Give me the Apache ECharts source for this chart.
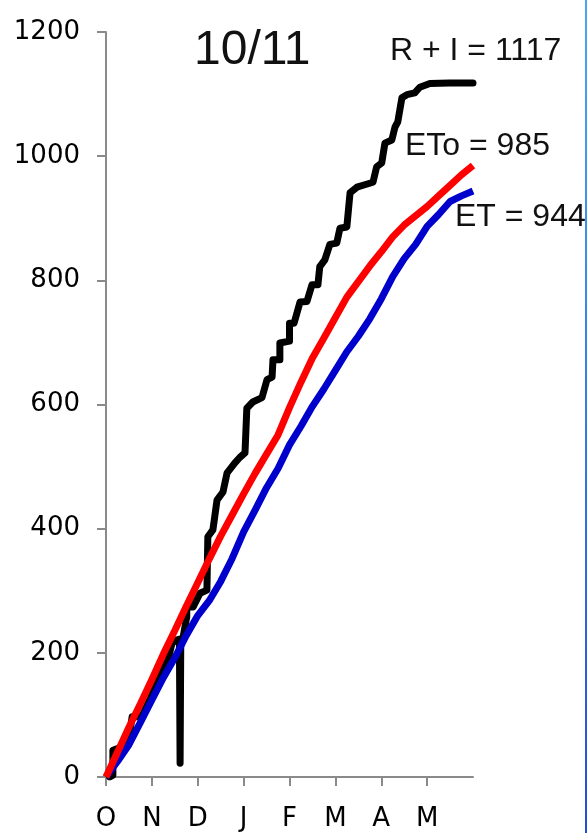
<!DOCTYPE html>
<html>
<head>
<meta charset="utf-8">
<title>10/11</title>
<script src="https://cdn.jsdelivr.net/npm/echarts@6/dist/echarts.min.js"></script>
<style>
    html, body {margin: 0; padding: 0; background: #fff;}
    #chart {width: 587px; height: 833px;}
</style>
</head>
<body>
<div id="chart"></div>
<script>
// x = months since 1 Oct, y = cumulative mm
var monthLabels = ["O", "N", "D", "J", "F", "M", "A", "M"];
var yTicks = [0, 200, 400, 600, 800, 1000, 1200];

// R + I (rain + irrigation), stepped
var rainIrr = [
    [0.08, 0], [0.15, 3], [0.15, 43], [0.48, 52], [0.57, 97], [0.78, 97], [1.0, 132],
    [1.13, 161], [1.35, 188], [1.44, 216], [1.55, 221], [1.6, 222], [1.615, 22], [1.63, 222],
    [1.68, 225], [1.76, 258], [1.76, 274], [1.9, 274], [2.05, 296], [2.2, 301], [2.22, 387],
    [2.33, 398], [2.42, 446], [2.55, 459], [2.64, 490], [2.81, 506], [2.92, 515], [3.03, 522],
    [3.07, 594], [3.2, 604], [3.4, 611], [3.51, 640], [3.62, 644], [3.64, 672], [3.79, 672],
    [3.79, 699], [4.0, 702], [4.0, 731], [4.1, 731], [4.23, 765], [4.38, 766], [4.49, 793],
    [4.62, 793], [4.66, 822], [4.77, 833], [4.88, 858], [5.03, 860], [5.1, 884], [5.25, 886],
    [5.32, 941], [5.47, 950], [5.64, 954], [5.82, 958], [5.9, 983], [6.01, 989], [6.08, 1021],
    [6.23, 1026], [6.3, 1047], [6.36, 1055], [6.45, 1094], [6.56, 1099], [6.73, 1102],
    [6.84, 1111], [7.06, 1117], [7.49, 1118], [8.0, 1118]
];
// ETo (reference ET)
var etoX = [0, 0.25, 0.5, 0.75, 1, 1.25, 1.5, 1.75, 2, 2.25, 2.5, 2.75, 3, 3.25, 3.5, 3.75, 4,
    4.25, 4.5, 4.75, 5, 5.25, 5.5, 5.75, 6, 6.25, 6.5, 6.75, 7, 7.25, 7.5, 7.75, 8];
var etoVals = [0, 40, 80, 118, 157, 198, 236, 275, 313, 351, 388, 422, 456, 489, 520, 551, 595,
    636, 675, 707, 740, 773, 798, 823, 846, 870, 889, 904, 919, 936, 953, 970, 985];
// ET (crop)
var etVals = [0, 25, 52, 88, 124, 160, 192, 228, 260, 284, 315, 352, 395, 430, 466, 497, 535,
    565, 597, 625, 655, 685, 710, 738, 770, 806, 835, 858, 887, 906, 927, 936, 944];

function pairs(xs, ys) {
    var out = [];
    for (var i = 0; i < xs.length; i++) {
        out.push([xs[i], ys[i]]);
    }
    return out;
}

var chart = echarts.init(document.getElementById('chart'));
var axisGrey = '#8a8a8a';
var labelFont = {color: '#000', fontSize: 26, fontFamily: 'DejaVu Sans'};

var option = {
    backgroundColor: '#fff',
    animation: false,
    grid: {left: 106, right: 114, top: 32, bottom: 56},
    xAxis: {
        type: 'value',
        min: 0,
        max: 8,
        interval: 1,
        splitLine: {show: false},
        axisLine: {lineStyle: {color: axisGrey, width: 2}},
        axisTick: {show: true, length: 9, customValues: [0, 1, 2, 3, 4, 5, 6, 7], lineStyle: {color: axisGrey, width: 2}},
        axisLabel: Object.assign({
            margin: 29,
            customValues: [0, 1, 2, 3, 4, 5, 6, 7],
            formatter: function (v) {
                return monthLabels[Math.round(v)] || '';
            }
        }, labelFont)
    },
    yAxis: {
        type: 'value',
        min: yTicks[0],
        max: yTicks[yTicks.length - 1],
        interval: 200,
        splitLine: {show: false},
        axisLine: {show: true, lineStyle: {color: axisGrey, width: 2}},
        axisTick: {show: true, length: 9, lineStyle: {color: axisGrey, width: 2}},
        axisLabel: Object.assign({
            margin: 26,
            formatter: function (v) {
                return String(v);   // no thousands comma
            }
        }, labelFont)
    },
    series: [
        {
            name: 'R + I',
            type: 'line',
            data: rainIrr,
            showSymbol: false,
            lineStyle: {color: '#000', width: 7, join: 'round', cap: 'round'}
        },
        {
            name: 'ET',
            type: 'line',
            data: pairs(etoX, etVals),
            showSymbol: false,
            lineStyle: {color: '#0000cc', width: 7}
        },
        {
            name: 'ETo',
            type: 'line',
            data: pairs(etoX, etoVals),
            showSymbol: false,
            lineStyle: {color: '#ff0000', width: 7}
        }
    ],
    graphic: [
        {type: 'text', x: 194, y: 51, style: {text: '10/11', font: '48px "Liberation Sans"', fill: '#111', textVerticalAlign: 'middle'}},
        {type: 'text', x: 390, y: 51, style: {text: 'R + I = 1117', font: '32px "Liberation Sans"', fill: '#111', textVerticalAlign: 'middle'}},
        {type: 'text', x: 405, y: 146, style: {text: 'ETo = 985', font: '32px "Liberation Sans"', fill: '#111', textVerticalAlign: 'middle'}},
        {type: 'text', x: 455, y: 217, style: {text: 'ET = 944', font: '32px "Liberation Sans"', fill: '#111', textVerticalAlign: 'middle'}},
        // blue strip on the right border of the original picture
        {
            type: 'rect', shape: {x: 585, y: 0, width: 2, height: 833},
            style: {fill: new echarts.graphic.LinearGradient(0, 0, 0, 1, [
                {offset: 0, color: '#4da6f2'}, {offset: 1, color: '#1f4fd6'}
            ])}
        }
    ]
};
chart.setOption(option);
</script>
</body>
</html>
